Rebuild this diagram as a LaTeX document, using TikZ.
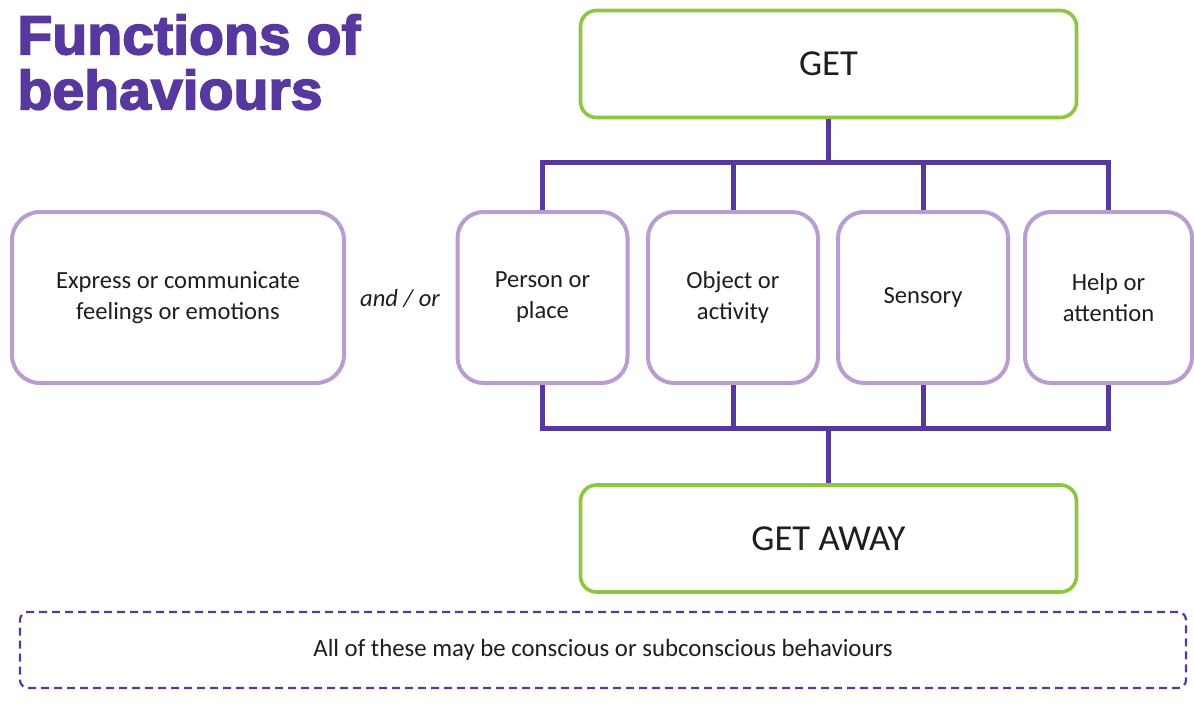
\documentclass[tikz,border=0pt]{standalone}
\usepackage{fontspec}
\setmainfont{Carlito}
\newfontfamily\titlefont[FakeBold=3, FakeStretch=1.04]{Liberation Sans Bold}
\definecolor{fbpurple}{RGB}{88,56,158}
\definecolor{fblilac}{RGB}{186,156,210}
\definecolor{fbgreen}{RGB}{141,198,63}
\definecolor{fbtext}{RGB}{30,30,30}
\usetikzlibrary{positioning}

\begin{document}
\begin{tikzpicture}[x=0.5pt, y=-0.5pt,
    mainbox/.style={draw=fbgreen, line width=1.8pt, rounded corners=8pt,
      minimum width=248pt, minimum height=53.5pt, font=\fontsize{18.3}{20}\selectfont, text=fbtext},
    funcbox/.style={draw=fblilac, line width=2pt, rounded corners=13pt,
      minimum width=85pt, minimum height=85.5pt, align=center,
      font=\fontsize{12.3}{15.5}\selectfont, text=fbtext},
    bus/.style={draw=fbpurple, line width=2.5pt}]
    % Page
    \fill[white] (0,0) rectangle (1194,713);
    \useasboundingbox (0,0) rectangle (1194,713);

    % Title
    \node[anchor=north west, align=left, text=fbpurple, inner sep=0pt,
          font=\titlefont\fontsize{27.5}{27.5}\selectfont] (title) at (17,14)
      {Functions of\\behaviours};

    % GET and GET AWAY
    \node[mainbox] (get) at (828.5,64) {GET};
    \node[mainbox] (getaway) at (828.5,538.5) {GET AWAY};

    % Functions
    \node[funcbox, minimum width=166pt, rounded corners=14pt] (express) at (178,297.5)
      {Express or communicate\\feelings or emotions};
    \node[font=\fontsize{12.3}{15}\selectfont\itshape, text=fbtext] (andor) at (400,298) {and / or};
    \node[funcbox] (person) at (542.5,297.5) {Person or\\place};
    \node[funcbox] (object) at (733,297.5) {Object or\\activity};
    \node[funcbox] (sensory) at (923,297.5) {Sensory};
    \node[funcbox, minimum width=83.5pt] (help) at (1108.5,297.5) {Help or\\attention};

    % Connectors
    \coordinate (busT) at (828.5,162);
    \coordinate (busB) at (828.5,428);
    \draw[bus] (get.south) -- (busT);
    \draw[bus] (person.north) -- (person.north |- busT) -- (help.north |- busT) -- (help.north);
    \foreach \n in {object,sensory}{
      \draw[bus] (\n.north) -- (\n.north |- busT);
    }
    \draw[bus] (person.south) -- (person.south |- busB) -- (help.south |- busB) -- (help.south);
    \foreach \n in {object,sensory}{
      \draw[bus] (\n.south) -- (\n.south |- busB);
    }
    \draw[bus] (busB) -- (getaway.north);

    % Note
    \node[draw=fbpurple, line width=1.1pt, dash pattern=on 4pt off 2.5pt, rounded corners=4pt,
          minimum width=583pt, minimum height=38pt, text=fbtext,
          font=\fontsize{12.4}{14}\selectfont] (note) at (603,650)
      {All of these may be conscious or subconscious behaviours};
\end{tikzpicture}
\end{document}
